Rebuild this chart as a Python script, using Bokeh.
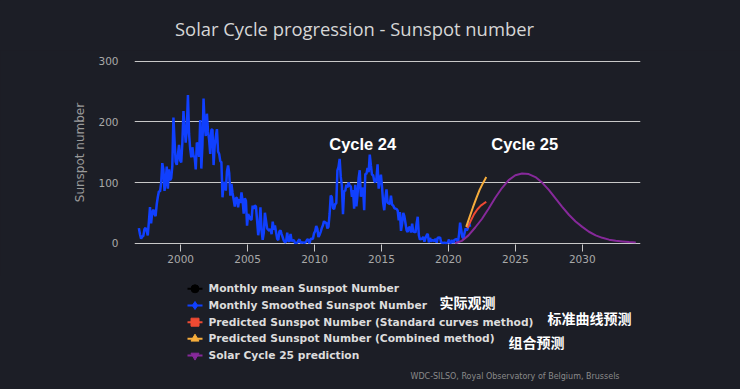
import numpy as np
from bokeh.plotting import figure
from bokeh.models import Range1d, FixedTicker, Label
from bokeh.layouts import column
from bokeh.embed import file_html
from bokeh.resources import INLINE
from bokeh.core.properties import value

BG = "#1c1e26"

# ---------------- data ----------------
obs_start_year = 1996
obs_start_month = 11
monthly_ssn = [
    25.0, 15.0,
    7.4, 11.0, 12.1, 23.0, 25.4, 20.8, 12.9, 35.7, 59.7, 32.8, 50.7, 55.5,
    48.1, 44.7, 63.8, 76.3, 85.7, 85.1, 99.6, 132.0, 122.1, 86.3, 101.2, 126.4,
    89.8, 121.6, 103.8, 107.4, 126.9, 206.9, 169.0, 134.1, 129.1, 145.3, 162.2, 136.4,
    133.1, 165.7, 217.7, 191.5, 165.9, 188.0, 244.3, 180.5, 156.0, 141.6, 158.1, 143.3,
    142.6, 121.5, 165.8, 161.7, 142.1, 202.9, 123.0, 161.5, 238.2, 194.1, 176.6, 213.4,
    184.6, 170.2, 147.1, 186.9, 187.5, 128.8, 161.0, 175.6, 187.9, 151.2, 147.2, 135.3,
    133.5, 75.7, 100.7, 97.9, 86.8, 118.7, 128.3, 115.4, 78.5, 97.8, 82.9, 72.2,
    60.6, 74.6, 74.8, 59.2, 72.8, 66.5, 83.8, 69.7, 48.8, 74.2, 70.1, 28.9,
    48.1, 43.5, 39.6, 38.7, 61.9, 56.8, 62.4, 60.5, 37.2, 13.2, 27.5, 59.3,
    20.9, 5.7, 17.3, 50.3, 37.2, 24.5, 22.2, 20.8, 23.7, 14.9, 35.7, 22.3,
    29.3, 18.4, 7.2, 5.4, 19.5, 21.3, 15.1, 9.8, 4.0, 1.5, 2.8, 17.3,
    4.1, 2.9, 15.5, 3.6, 4.6, 5.2, 0.6, 0.3, 1.2, 4.2, 6.6, 1.0,
    1.3, 1.2, 0.6, 1.2, 2.9, 6.3, 5.5, 0.0, 7.1, 7.7, 6.9, 16.3,
    19.5, 28.5, 24.0, 10.4, 13.9, 18.8, 25.2, 29.6, 36.4, 33.6, 34.4, 24.5,
    27.3, 48.3, 78.6, 76.1, 58.2, 56.1, 64.5, 65.8, 120.1, 125.7, 139.1, 109.3,
    94.4, 47.8, 86.6, 85.9, 96.5, 92.0, 100.1, 94.8, 93.7, 76.5, 87.6, 56.8,
    96.1, 60.9, 78.3, 107.3, 120.2, 76.7, 86.2, 91.8, 54.5, 114.4, 113.9, 124.2,
    117.0, 146.1, 128.7, 112.5, 112.5, 102.9, 100.2, 106.9, 130.0, 90.0, 103.6, 112.9,
    93.0, 66.7, 54.5, 75.3, 88.8, 66.5, 65.8, 64.4, 78.6, 63.6, 62.2, 58.0,
    57.0, 56.4, 54.1, 37.9, 51.5, 20.5, 32.4, 50.2, 44.6, 33.4, 21.4, 18.5,
    26.1, 26.4, 17.7, 32.3, 18.9, 19.2, 17.8, 32.6, 43.6, 13.2, 5.7, 8.2,
    6.8, 10.7, 2.5, 8.9, 13.1, 15.6, 1.6, 8.7, 3.3, 4.9, 4.9, 3.1,
    7.7, 0.8, 9.4, 9.1, 9.9, 1.2, 0.9, 0.5, 1.1, 0.4, 0.5, 1.5,
    6.2, 0.2, 1.5, 5.2, 0.2, 5.8, 6.1, 7.5, 0.6, 14.4, 34.0, 21.8,
    10.4, 8.2, 17.2, 24.5, 21.2, 25.0, 34.3, 27.0,
]

std_years = [2021.42, 2021.67, 2021.92, 2022.17, 2022.42, 2022.67, 2022.83]
std_ssn = [25, 37, 48, 56, 62, 66, 68]

comb_years = [2021.33, 2021.58, 2021.83, 2022.08, 2022.33, 2022.58, 2022.83]
comb_ssn = [27, 43, 59, 74, 88, 99, 109]

c25_years = [2020.5, 2021.0, 2021.5, 2022.0, 2022.5, 2023.0, 2023.5, 2024.0,
             2024.5, 2025.0, 2025.5, 2026.0, 2026.5, 2027.0, 2027.5, 2028.0,
             2028.5, 2029.0, 2029.5, 2030.0, 2030.5, 2031.0, 2031.5, 2032.0,
             2032.5, 2033.0, 2033.5, 2034.0]
c25_ssn = [0, 4, 13, 26, 40, 57, 75, 91, 104, 112, 115, 114, 109, 100, 88, 74,
           60, 47, 36, 27, 19, 13, 9, 6, 4, 3, 2, 1.5]

x_ticks = [2000, 2005, 2010, 2015, 2020, 2025, 2030]
y_ticks = [0, 100, 200, 300]

title_text = "Solar Cycle progression - Sunspot number"
legend_labels = [
    "Monthly mean Sunspot Number",
    "Monthly Smoothed Sunspot Number",
    "Predicted Sunspot Number (Standard curves method)",
    "Predicted Sunspot Number (Combined method)",
    "Solar Cycle 25 prediction",
]
cn_labels = ["实际观测", "标准曲线预测", "组合预测"]
credit_text = "WDC-SILSO, Royal Observatory of Belgium, Brussels"

# ---------------- styles ----------------
C_BLUE = "#1040ff"
C_RED = "#ee4a33"
C_ORANGE = "#f6ad3c"
C_PURPLE = "#86299a"
legend_colors = ["#000000", C_BLUE, C_RED, C_ORANGE, C_PURPLE]
legend_markers = ["circle", "diamond", "square", "triangle", "inverted_triangle"]

W = 740
BG_STYLE = {"background-color": BG}


def blank_panel(h):
    f = figure(width=W, height=h, x_range=Range1d(0, W), y_range=Range1d(0, h),
               output_backend="svg", toolbar_location=None,
               min_border=0, min_border_left=0, min_border_right=0,
               min_border_top=0, min_border_bottom=0,
               x_axis_location=None, y_axis_location=None,
               background_fill_color=BG, border_fill_color=BG,
               outline_line_color=None, styles=BG_STYLE)
    f.grid.visible = False
    f.frame_align = False
    return f


# ---- title panel ----
t = blank_panel(50)
t.text(x=[354], y=[22], text=[title_text], text_align="center",
       text_baseline="middle", text_font=value("Open Sans"),
       text_font_size="18.4px", text_color="#d6d6d6")

# ---- main plot ----
idx = np.arange(len(monthly_ssn))
obs_t = obs_start_year + (obs_start_month - 1 + idx + 0.5) / 12.0

p = figure(width=W, height=225,
           x_range=Range1d(1996.55, 2034.35), y_range=Range1d(-2, 301),
           output_backend="svg", toolbar_location=None,
           min_border_left=134, min_border_right=100,
           min_border_top=10, min_border_bottom=31,
           background_fill_color=BG, border_fill_color=BG,
           outline_line_color=None, styles=BG_STYLE)
p.frame_align = False

p.xgrid.visible = False
p.ygrid.ticker = FixedTicker(ticks=y_ticks)
p.ygrid.grid_line_color = "#c8c8c8"
p.ygrid.grid_line_width = 1

p.xaxis.ticker = FixedTicker(ticks=x_ticks)
p.xaxis.axis_line_color = None
p.xaxis.major_tick_line_color = "#c8c8c8"
p.xaxis.major_tick_out = 7
p.xaxis.major_tick_in = 0
p.xaxis.minor_tick_line_color = None
p.xaxis.major_label_text_color = "#a9a9a9"
p.xaxis.major_label_text_font = "DejaVu Sans"
p.xaxis.major_label_text_font_size = "10.5px"
p.xaxis.major_label_standoff = 3

p.yaxis.ticker = FixedTicker(ticks=y_ticks)
p.yaxis.axis_line_color = None
p.yaxis.major_tick_line_color = None
p.yaxis.minor_tick_line_color = None
p.yaxis.major_tick_out = 0
p.yaxis.major_tick_in = 0
p.yaxis.major_label_standoff = 16
p.yaxis.major_label_text_color = "#a9a9a9"
p.yaxis.major_label_text_font = "DejaVu Sans"
p.yaxis.major_label_text_font_size = "10.5px"
p.yaxis.axis_label = "Sunspot number"
p.yaxis.axis_label_text_font = "DejaVu Sans"
p.yaxis.axis_label_text_font_style = "normal"
p.yaxis.axis_label_text_font_size = "12px"
p.yaxis.axis_label_text_color = "#9a9a9a"
p.yaxis.axis_label_standoff = 8

p.line(obs_t, monthly_ssn, line_color=C_BLUE, line_width=2.5)
p.line(c25_years, c25_ssn, line_color=C_PURPLE, line_width=2)
p.line(std_years, std_ssn, line_color=C_RED, line_width=2)
p.line(comb_years, comb_ssn, line_color=C_ORANGE, line_width=2)

for txt, xx, yy in [("Cycle 24", 2013.6, 163), ("Cycle 25", 2025.7, 164)]:
    p.add_layout(Label(x=xx, y=yy, text=txt, text_align="center", text_baseline="middle",
                       text_font="Liberation Sans", text_font_style="bold",
                       text_font_size="16.5px", text_color="#ffffff"))

# ---- legend panel ----
q = blank_panel(114)
rows = [100.7, 84.0, 67.3, 50.7, 34.0]
q.segment(x0=[187] * 5, y0=rows, x1=[202] * 5, y1=rows,
          line_color=legend_colors, line_width=2)
q.scatter(x=[194.5] * 5, y=rows, marker=legend_markers, size=8,
          fill_color=legend_colors, line_color=legend_colors)
q.text(x=[208] * 5, y=rows, text=legend_labels, text_baseline="middle",
       text_font=value("DejaVu Sans"), text_font_style="bold",
       text_font_size="10.7px", text_color="#dcdcdc")
q.text(x=[439, 547, 508], y=[87.3, 71.3, 48.0], text=cn_labels,
       text_baseline="middle", text_font=value("Noto Sans CJK SC"),
       text_font_style="bold", text_font_size="14px", text_color="#ffffff")
q.text(x=[410], y=[13], text=[credit_text],
       text_baseline="middle", text_font=value("DejaVu Sans"),
       text_font_size="8px", text_color="#8a8a8a")

layout = column(t, p, q, spacing=0, styles=BG_STYLE)
html = file_html(layout, INLINE)
html = html.replace("</head>",
                    "<style>html, body { background-color: %s !important; }</style></head>" % BG, 1)
open("out.html", "w").write(html)
